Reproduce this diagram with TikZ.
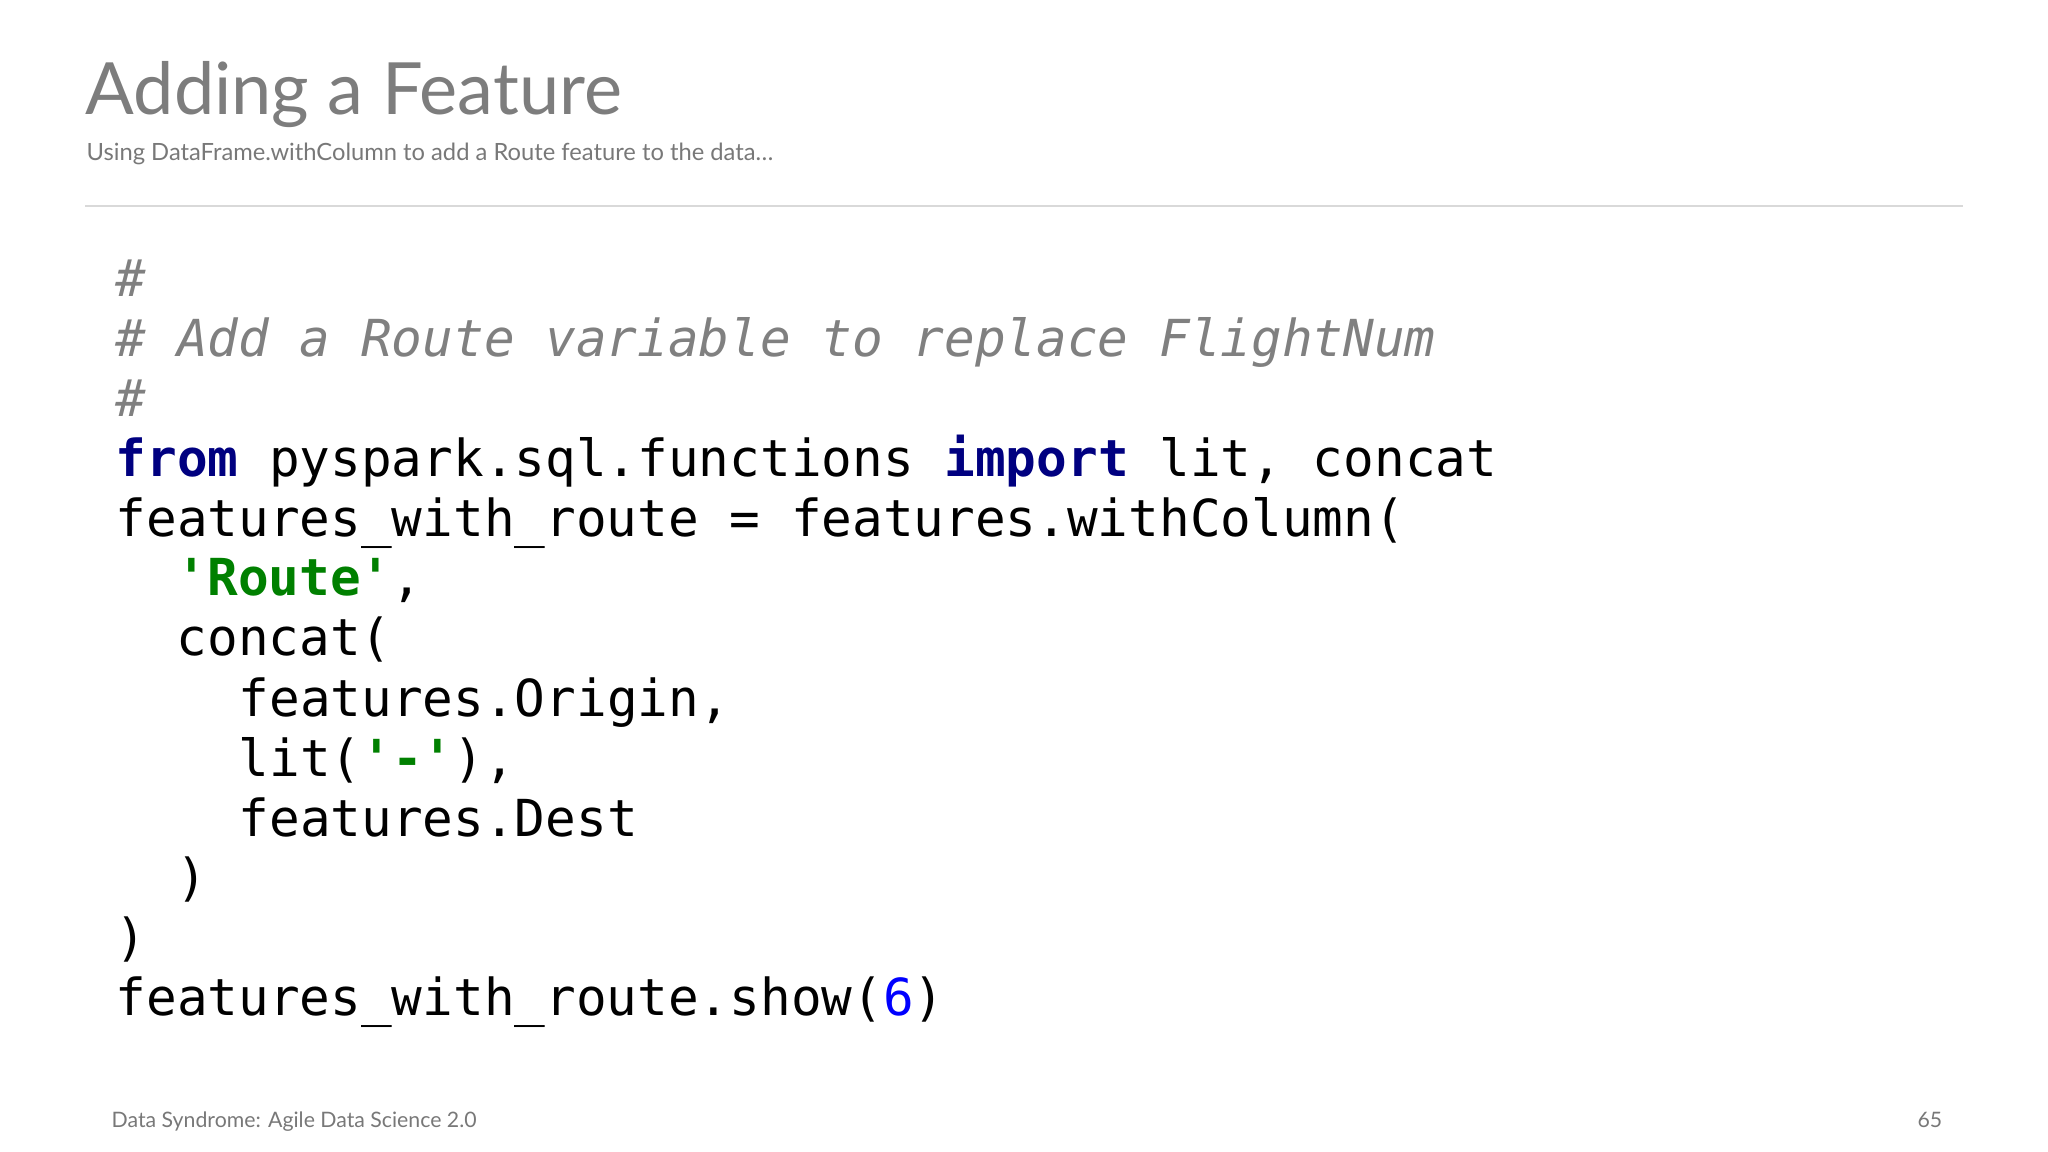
\documentclass[tikz,border=0pt]{standalone}
\usepackage{fontspec}
\setmainfont{Lato}
\setmonofont{DejaVu Sans Mono}
\definecolor{ttl}{RGB}{125,125,125}
\definecolor{sub}{RGB}{120,120,120}
\definecolor{cmt}{RGB}{128,128,128}
\definecolor{kw}{RGB}{0,0,128}
\definecolor{str}{RGB}{0,128,0}
\definecolor{num}{RGB}{0,0,255}
\newcommand{\K}[1]{\textcolor{kw}{\bfseries #1}}
\newcommand{\Sg}[1]{\textcolor{str}{\bfseries #1}}
\begin{document}
\begin{tikzpicture}[x=0.01cm,y=-0.01cm,
  code/.style={anchor=base west,inner sep=0,font=\ttfamily\fontsize{14.5}{16}\selectfont}]
\useasboundingbox (0,0) rectangle (2048,1152);
\node[anchor=base west,inner sep=0,text=ttl,font=\fontsize{20.5}{24}\selectfont] (title) at (85,115) {Adding a Feature};
\node[anchor=base west,inner sep=0,text=sub,font=\fontsize{6.75}{9}\selectfont] (subtitle) at (86,161) {Using DataFrame.withColumn to add a Route feature to the data\dots};
\draw[draw=black!15,line width=0.6pt] (85,206) -- (1963,206);
\node[code,text=cmt,font=\ttfamily\itshape\fontsize{14.5}{16}\selectfont] (l1) at (115,297) {\#};
\node[code,text=cmt,font=\ttfamily\itshape\fontsize{14.5}{16}\selectfont] (l2) at (115,357) {\# Add a Route variable to replace FlightNum};
\node[code,text=cmt,font=\ttfamily\itshape\fontsize{14.5}{16}\selectfont] (l3) at (115,417) {\#};
\node[code] (l4) at (115,477) {\K{from} pyspark.sql.functions \K{import} lit, concat};
\node[code] (l5) at (115,537) {features\_with\_route = features.withColumn(};
\node[code] (l6) at (176,596) {\Sg{'Route'},};
\node[code] (l7) at (176,656) {concat(};
\node[code] (l8) at (238,716) {features.Origin,};
\node[code] (l9) at (238,776) {lit(\Sg{'-'}),};
\node[code] (l10) at (238,836) {features.Dest};
\node[code] (l11) at (176,895) {)};
\node[code] (l12) at (115,955) {)};
\node[code] (l13) at (115,1015) {features\_with\_route.show(\textcolor{num}{6})};
\node[anchor=base west,inner sep=0,text=sub,font=\fontsize{6.05}{8}\selectfont] (foot) at (111,1127) {Data Syndrome: Agile Data Science 2.0};
\node[anchor=base east,inner sep=0,text=sub,font=\fontsize{6.05}{8}\selectfont] (page) at (1943,1127) {65};
\end{tikzpicture}
\end{document}
